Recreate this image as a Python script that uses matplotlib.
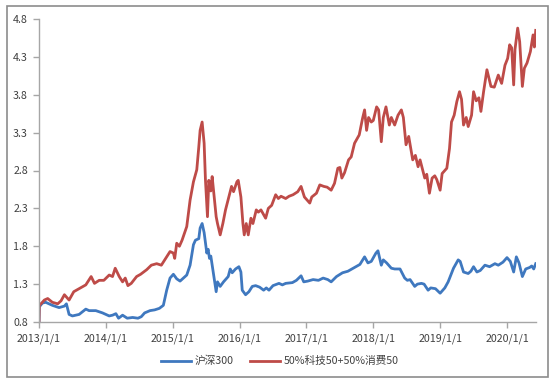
import matplotlib.pyplot as plt
from matplotlib.patches import Rectangle

plt.rcParams['font.family'] = ['Noto Sans CJK SC', 'DejaVu Sans']

# time as decimal years
hs300_t = [2013.00, 2013.005, 2013.05, 2013.10, 2013.20, 2013.30, 2013.38, 2013.41, 2013.45, 2013.50,
           2013.60, 2013.70, 2013.75, 2013.85, 2013.95, 2014.05, 2014.10, 2014.15, 2014.19, 2014.25,
           2014.32, 2014.40, 2014.48, 2014.53, 2014.58, 2014.66, 2014.73, 2014.80, 2014.86, 2014.91,
           2014.96, 2015.01, 2015.06, 2015.11, 2015.16, 2015.21, 2015.26, 2015.31, 2015.34, 2015.39,
           2015.41, 2015.44, 2015.47, 2015.51, 2015.53, 2015.55, 2015.57, 2015.60, 2015.65, 2015.67,
           2015.71, 2015.76, 2015.83, 2015.86, 2015.89, 2015.94, 2015.99, 2016.02, 2016.04, 2016.09,
           2016.14, 2016.19, 2016.24, 2016.30, 2016.36, 2016.40, 2016.44, 2016.50, 2016.59, 2016.64,
           2016.69, 2016.79, 2016.85, 2016.92, 2016.96, 2017.02, 2017.10, 2017.18, 2017.25, 2017.32,
           2017.37, 2017.45, 2017.54, 2017.62, 2017.74, 2017.80, 2017.87, 2017.92, 2017.97, 2018.04,
           2018.07, 2018.12, 2018.15, 2018.20, 2018.27, 2018.32, 2018.40, 2018.47, 2018.51, 2018.55,
           2018.62, 2018.66, 2018.72, 2018.76, 2018.82, 2018.86, 2018.93, 2019.00, 2019.07, 2019.12,
           2019.20, 2019.27, 2019.30, 2019.35, 2019.42, 2019.46, 2019.50, 2019.55, 2019.60, 2019.67,
           2019.74, 2019.82, 2019.87, 2019.94, 2020.00, 2020.05, 2020.10, 2020.14, 2020.18, 2020.23,
           2020.28, 2020.34, 2020.37, 2020.40, 2020.43]
hs300_v = [0.80, 1.00, 1.05, 1.06, 1.02, 0.99, 1.01, 1.04, 0.90, 0.88,
           0.90, 0.97, 0.95, 0.95, 0.92, 0.88, 0.89, 0.91, 0.85, 0.89,
           0.85, 0.86, 0.85, 0.87, 0.92, 0.95, 0.96, 0.98, 1.02, 1.22,
           1.38, 1.43, 1.37, 1.34, 1.38, 1.42, 1.55, 1.82, 1.88, 1.90,
           2.04, 2.10, 1.98, 1.71, 1.76, 1.64, 1.67, 1.49, 1.20, 1.33,
           1.27, 1.33, 1.40, 1.50, 1.45, 1.50, 1.53, 1.46, 1.22, 1.16,
           1.20, 1.27, 1.28, 1.26, 1.22, 1.25, 1.22, 1.28, 1.31, 1.29,
           1.31, 1.32, 1.35, 1.41, 1.33, 1.34, 1.36, 1.35, 1.38, 1.36,
           1.33, 1.40, 1.45, 1.47, 1.53, 1.56, 1.66, 1.58, 1.60, 1.71,
           1.74, 1.55, 1.62, 1.58, 1.51, 1.50, 1.50, 1.38, 1.35, 1.36,
           1.27, 1.30, 1.31, 1.30, 1.22, 1.25, 1.24, 1.18, 1.25, 1.33,
           1.51, 1.62, 1.60, 1.46, 1.44, 1.47, 1.53, 1.46, 1.48, 1.55,
           1.53, 1.57, 1.55, 1.59, 1.65, 1.60, 1.46, 1.66, 1.58, 1.40,
           1.50, 1.52, 1.54, 1.50, 1.57]

mix_t = [2013.00, 2013.005, 2013.04, 2013.08, 2013.13, 2013.20, 2013.28, 2013.33, 2013.38, 2013.45,
         2013.52, 2013.60, 2013.70, 2013.78, 2013.83, 2013.90, 2013.97, 2014.05, 2014.10, 2014.14,
         2014.20, 2014.25, 2014.29, 2014.33, 2014.38, 2014.46, 2014.52, 2014.61, 2014.68, 2014.76,
         2014.83, 2014.91, 2014.96, 2015.01, 2015.03, 2015.06, 2015.10, 2015.14, 2015.21, 2015.26,
         2015.31, 2015.36, 2015.39, 2015.41, 2015.44, 2015.47, 2015.49, 2015.52, 2015.54, 2015.57,
         2015.59, 2015.62, 2015.65, 2015.67, 2015.71, 2015.75, 2015.79, 2015.84, 2015.88, 2015.91,
         2015.96, 2015.98, 2016.02, 2016.05, 2016.07, 2016.10, 2016.13, 2016.17, 2016.20, 2016.25,
         2016.28, 2016.32, 2016.39, 2016.43, 2016.48, 2016.54, 2016.58, 2016.62, 2016.69, 2016.74,
         2016.80, 2016.87, 2016.92, 2016.97, 2017.01, 2017.05, 2017.08, 2017.15, 2017.20, 2017.26,
         2017.31, 2017.37, 2017.42, 2017.47, 2017.50, 2017.53, 2017.57, 2017.63, 2017.67, 2017.72,
         2017.79, 2017.84, 2017.87, 2017.90, 2017.93, 2017.97, 2018.00, 2018.05, 2018.08, 2018.12,
         2018.15, 2018.19, 2018.24, 2018.27, 2018.32, 2018.37, 2018.42, 2018.45, 2018.49, 2018.53,
         2018.59, 2018.63, 2018.67, 2018.70, 2018.74, 2018.77, 2018.80, 2018.84, 2018.88, 2018.92,
         2018.95, 2019.00, 2019.03, 2019.07, 2019.10, 2019.14, 2019.17, 2019.21, 2019.25, 2019.29,
         2019.32, 2019.35, 2019.39, 2019.42, 2019.47, 2019.50, 2019.54, 2019.58, 2019.61, 2019.65,
         2019.70, 2019.73, 2019.76, 2019.81, 2019.87, 2019.92, 2019.97, 2020.01, 2020.04, 2020.07,
         2020.10, 2020.12, 2020.16, 2020.19, 2020.23, 2020.26, 2020.30, 2020.35, 2020.39, 2020.41,
         2020.43]
mix_v = [0.80, 1.02, 1.05, 1.09, 1.11, 1.06, 1.04, 1.08, 1.16, 1.09,
         1.20, 1.24, 1.29, 1.40, 1.31, 1.35, 1.35, 1.42, 1.40, 1.51,
         1.40, 1.33, 1.38, 1.28, 1.31, 1.40, 1.43, 1.49, 1.55, 1.57,
         1.55, 1.66, 1.73, 1.71, 1.64, 1.84, 1.80, 1.88, 2.06, 2.41,
         2.65, 2.81, 3.11, 3.33, 3.44, 3.16, 2.67, 2.19, 2.67, 2.53,
         2.72, 2.45, 2.19, 2.10, 1.95, 2.10, 2.28, 2.45, 2.59, 2.52,
         2.65, 2.67, 2.45, 2.10, 1.95, 2.10, 1.95, 2.17, 2.10, 2.28,
         2.25, 2.28, 2.17, 2.30, 2.34, 2.48, 2.43, 2.46, 2.43, 2.46,
         2.48, 2.52, 2.59, 2.45, 2.41, 2.37, 2.45, 2.50, 2.61, 2.59,
         2.58, 2.54, 2.63, 2.83, 2.84, 2.70, 2.77, 2.94, 2.98, 3.16,
         3.27, 3.49, 3.60, 3.33, 3.50, 3.44, 3.46, 3.64, 3.60, 3.18,
         3.50, 3.64, 3.40, 3.50, 3.40, 3.53, 3.60, 3.50, 3.14, 3.25,
         2.94, 3.00, 2.85, 2.94, 2.80, 2.70, 2.75, 2.50, 2.70, 2.73,
         2.68, 2.54, 2.76, 2.80, 2.83, 3.09, 3.44, 3.53, 3.71, 3.84,
         3.74, 3.40, 3.50, 3.38, 3.53, 3.84, 3.72, 3.76, 3.58, 3.84,
         4.13, 4.02, 3.91, 3.90, 4.06, 3.95, 4.19, 4.28, 4.46, 4.42,
         3.93, 4.40, 4.68, 4.50, 3.91, 4.15, 4.22, 4.37, 4.59, 4.43,
         4.65]

year_ticks = [2013, 2014, 2015, 2016, 2017, 2018, 2019, 2020]
year_labels = ['2013/1/1', '2014/1/1', '2015/1/1', '2016/1/1',
               '2017/1/1', '2018/1/1', '2019/1/1', '2020/1/1']
y_ticks = [0.8, 1.3, 1.8, 2.3, 2.8, 3.3, 3.8, 4.3, 4.8]

fig = plt.figure(figsize=(5.52, 3.81), dpi=100)
fig.patches.append(Rectangle((7 / 552, 1 - 377 / 381), 541 / 552, 371 / 381,
                             transform=fig.transFigure, fill=False,
                             edgecolor='#8c8c8c', linewidth=1.2))

ax = fig.add_axes([39 / 552, 1 - 322 / 381, 497 / 552, 303 / 381])
ax.plot(hs300_t, hs300_v, color='#3f78bf', lw=2.0, label='沪深300')
ax.plot(mix_t, mix_v, color='#be4b48', lw=2.0, label='50%科技50+50%消费50')

ax.set_xlim(2013, 2020.434)
ax.set_ylim(0.8, 4.8)
ax.set_xticks(year_ticks)
ax.set_xticklabels(year_labels)
ax.set_yticks(y_ticks)
ax.set_yticklabels(['%.1f' % v for v in y_ticks])

for s in ['top', 'right']:
    ax.spines[s].set_visible(False)
for s in ['left', 'bottom']:
    ax.spines[s].set_color('#a6a6a6')
    ax.spines[s].set_linewidth(1.0)
ax.tick_params(axis='both', colors='#a6a6a6', labelcolor='#404040',
               labelsize=7.7, length=4, width=1.0)
ax.tick_params(axis='y', pad=4)
ax.tick_params(axis='x', pad=4)

fig.legend(loc='center', bbox_to_anchor=(0.507, 1 - 361 / 381), ncol=2,
           frameon=False, fontsize=7.7, handlelength=2.8, columnspacing=1.5,
           handletextpad=0.4, labelcolor='#404040')

fig.savefig('out.png', dpi=100)
